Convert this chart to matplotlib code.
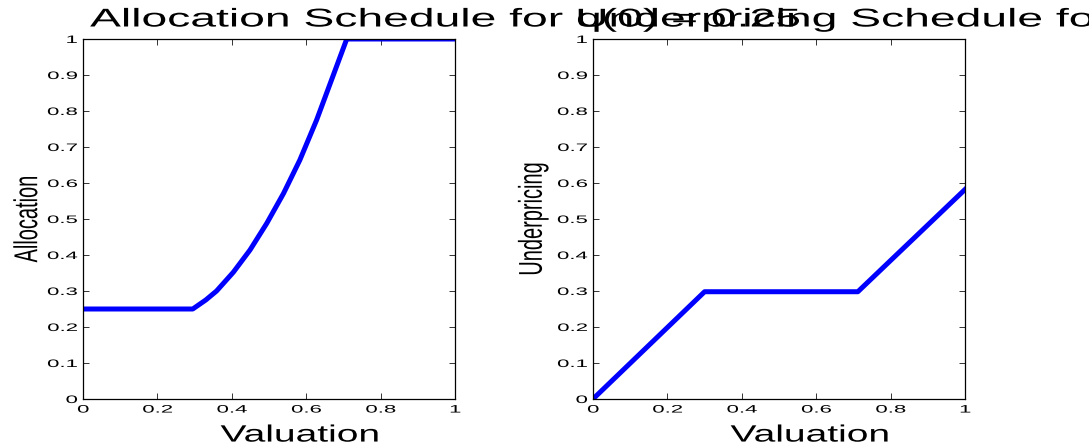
import matplotlib
matplotlib.use("Agg")
import matplotlib.pyplot as plt
from matplotlib.patheffects import AbstractPathEffect
from matplotlib.transforms import Affine2D

plt.rcParams['font.family'] = ['Liberation Sans', 'DejaVu Sans']

# data
alloc_x = [0.0, 0.295, 0.330, 0.359, 0.404, 0.449, 0.494, 0.539, 0.583, 0.628, 0.673, 0.709, 1.0]
alloc_y = [0.25, 0.25, 0.275, 0.300, 0.352, 0.414, 0.488, 0.571, 0.664, 0.775, 0.900, 1.0, 1.0]

under_x = [0.0, 0.300, 0.712, 1.0]
under_y = [0.0, 0.298, 0.298, 0.582]

x_ticks = [0, 0.2, 0.4, 0.6, 0.8, 1]
x_tick_labels = ["0", "0.2", "0.4", "0.6", "0.8", "1"]
y_ticks = [0, 0.1, 0.2, 0.3, 0.4, 0.5, 0.6, 0.7, 0.8, 0.9, 1]
y_tick_labels = ["0", "0.1", "0.2", "0.3", "0.4", "0.5", "0.6", "0.7", "0.8", "0.9", "1"]

titles = ["Allocation Schedule for q(0) = 0.25", "Underpricing Schedule for q(0) = 0.25"]
ylabels = ["Allocation", "Underpricing"]


# the reference text is drawn horizontally stretched, do the same
class Stretch(AbstractPathEffect):
    def __init__(self, sx, anchor="center"):
        super().__init__()
        self.sx = sx
        self.anchor = anchor

    def draw_path(self, renderer, gc, tpath, affine, rgbFace=None):
        pts = affine.transform(tpath.vertices)
        if len(pts) == 0:
            return
        x0, x1 = pts[:, 0].min(), pts[:, 0].max()
        if self.anchor == "left":
            ref = x0
        elif self.anchor == "right":
            ref = x1
        else:
            ref = (x0 + x1) / 2
        extra = Affine2D().translate(-ref, 0).scale(self.sx, 1).translate(ref, 0)
        renderer.draw_path(gc, tpath, affine + extra, rgbFace)


fig = plt.figure(figsize=(10.89, 4.46), dpi=100)
ax1 = fig.add_axes([83 / 1089, 47 / 446, 372 / 1089, 360 / 446])
ax2 = fig.add_axes([593 / 1089, 47 / 446, 372 / 1089, 360 / 446])

ax1.plot(alloc_x, alloc_y, color="#0000ff", lw=3.6, solid_joinstyle="round")
ax2.plot(under_x, under_y, color="#0000ff", lw=3.6, solid_joinstyle="round")

title_x = [0.019, -0.048]
ylabel_x = [-0.125, -0.136]

for i, ax in enumerate([ax1, ax2]):
    ax.set_xlim(0, 1)
    ax.set_ylim(0, 1)
    ax.set_xticks(x_ticks)
    ax.set_xticklabels(x_tick_labels, fontsize=7.8)
    ax.set_yticks(y_ticks)
    ax.set_yticklabels(y_tick_labels, fontsize=7.8)
    ax.tick_params(direction="in", top=True, right=True, length=4.3, width=0.7,
                   color="#333333", pad=4.0)
    for sp in ax.spines.values():
        sp.set_linewidth(0.9)
        sp.set_color("black")
    for lab in ax.get_xticklabels():
        lab.set_path_effects([Stretch(2.05, "center")])
    for lab in ax.get_yticklabels():
        lab.set_path_effects([Stretch(2.05, "right")])

    t = ax.set_title(titles[i], loc="left", x=title_x[i], fontsize=18.5, pad=9)
    t.set_path_effects([Stretch(1.8, "left")])

    xl = ax.set_xlabel("Valuation", fontsize=17)
    ax.xaxis.set_label_coords(0.5, -0.071)
    xl.set_path_effects([Stretch(1.65, "left")])

    yl = ax.set_ylabel(ylabels[i], fontsize=14.4)
    ax.yaxis.set_label_coords(ylabel_x[i], 0.5)
    yl.set_path_effects([Stretch(1.65, "center")])

fig.savefig("out.png", dpi=100)
